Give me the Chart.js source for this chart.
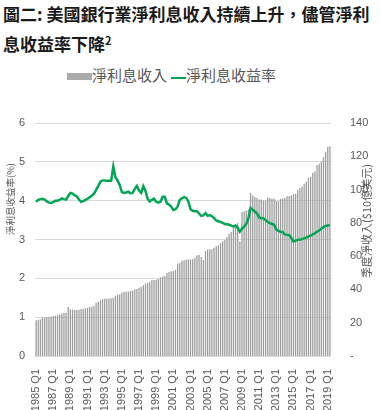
<!DOCTYPE html>
<html>
<head>
<meta charset="utf-8">
<script src="https://cdn.jsdelivr.net/npm/chart.js@4/dist/chart.umd.min.js"></script>
<style>
  html, body { margin: 0; padding: 0; background: #fff; }
  #wrap { position: relative; width: 380px; height: 410px; overflow: hidden; }
  #title { position: absolute; left: 3px; top: -1px; font: bold 17px "Noto Sans CJK TC", "Noto Sans CJK SC", sans-serif; line-height: 29.5px; color: #1a1a1a; white-space: nowrap; }
  #title sup { font-size: 11px; vertical-align: 6px; line-height: 0; }
  #legend { position: absolute; left: 67px; top: 66px; font: 15px "Noto Sans CJK TC", "Noto Sans CJK SC", sans-serif; color: #595959; white-space: nowrap; line-height: 18px; }
  #legend .box { display: inline-block; width: 25px; height: 7px; background: #ababab; vertical-align: 1px; }
  #legend .ln { display: inline-block; width: 15px; height: 2.5px; background: #00a651; vertical-align: 2px; margin-left: 4px; }
  canvas { position: absolute; left: 0; top: 0; }
</style>
</head>
<body>
<div id="wrap">
  <div id="title">圖二: 美國銀行業淨利息收入持續上升，儘管淨利<br>息收益率下降<sup>2</sup></div>
  <div id="legend"><span class="box"></span>淨利息收入<span class="ln"></span>淨利息收益率</div>
  <canvas id="c" width="380" height="410"></canvas>
</div>
<script>
// Quarter labels
const years = [1985,1986,1987,1988,1989,1990,1991,1992,1993,1994,1995,1996,1997,1998,1999,2000,2001,2002,2003,2004,2005,2006,2007,2008,2009,2010,2011,2012,2013,2014,2015,2016,2017,2018,2019];
const quarterNames = ['Q1','Q2','Q3','Q4'];
const quarterCount = 138; // 1985 Q1 .. 2019 Q2

// Quarterly net interest income ($10億美元), right axis
const netInterestIncome = [
  21.5, 21.8, 22.0, 23.0,
  23.2, 23.3, 23.5, 23.8,
  24.0, 24.2, 24.5, 25.0,
  25.5, 26.0, 26.0, 29.5,
  28.0, 27.8, 27.6, 27.6,
  27.8, 28.2, 28.4, 28.6,
  29.0, 29.4, 29.6, 30.0,
  32.0, 32.5, 33.5, 34.2,
  34.4, 34.4, 34.5, 34.6,
  35.0, 36.0, 36.7, 37.0,
  38.0, 38.5, 38.6, 38.8,
  39.0, 39.3, 40.0, 40.3,
  41.0, 41.6, 42.5, 43.5,
  44.0, 44.5, 45.5, 45.7,
  45.8, 46.3, 47.2, 47.7,
  48.0, 49.8, 50.5, 50.8,
  51.0, 51.7, 55.5, 56.0,
  57.2, 57.5, 58.0, 58.0,
  58.0, 58.2, 59.0, 60.5,
  60.7, 59.5, 57.7, 63.0,
  64.0, 64.0, 64.2, 65.0,
  66.0, 66.5, 68.0, 69.0,
  69.7, 71.5, 73.5, 74.5,
  77.0, 78.0, 79.7, 68.7,
  86.5, 87.0, 87.5, 88.0,
  98.0, 96.5, 95.5, 95.0,
  94.0, 94.0, 93.5, 93.3,
  95.3, 95.0, 94.5, 94.5,
  93.3, 93.0, 94.5, 94.7,
  95.0, 96.0, 96.0, 96.5,
  97.3, 97.5, 99.7, 101.0,
  101.7, 103.5, 104.7, 107.0,
  107.7, 110.0, 111.0, 114.7,
  115.5, 116.7, 119.5, 122.7,
  125.7, 126.0
];

// Net interest margin (%), left axis
const netInterestMargin = [
  3.97, 4.02, 4.04, 4.05,
  4.03, 3.98, 3.95, 3.94,
  3.96, 4.00, 4.00, 4.02,
  4.06, 4.04, 4.03, 4.12,
  4.20, 4.18, 4.14, 4.11,
  4.03, 3.97, 3.99, 4.02,
  4.05, 4.09, 4.13, 4.18,
  4.28, 4.38, 4.49, 4.52,
  4.52, 4.51, 4.51, 4.51,
  4.88, 4.60, 4.52, 4.40,
  4.22, 4.20, 4.21, 4.23,
  4.19, 4.20, 4.30, 4.38,
  4.26, 4.20, 4.37, 4.25,
  4.05, 3.98, 4.02, 4.05,
  3.97, 3.95, 3.97, 4.10,
  4.10, 3.93, 3.90, 3.85,
  3.76, 3.78, 3.85, 4.02,
  4.06, 4.09, 4.07, 3.98,
  3.78, 3.74, 3.73, 3.73,
  3.67, 3.61, 3.62, 3.68,
  3.61, 3.63, 3.60, 3.55,
  3.49, 3.47, 3.45, 3.43,
  3.40, 3.39, 3.38, 3.36,
  3.33, 3.36, 3.30, 3.20,
  3.28, 3.33, 3.40, 3.55,
  3.81, 3.77, 3.72, 3.67,
  3.57, 3.55, 3.55, 3.50,
  3.45, 3.42, 3.40, 3.38,
  3.26, 3.22, 3.20, 3.19,
  3.13, 3.12, 3.11, 3.04,
  2.95, 2.97, 2.99, 3.00,
  3.01, 3.03, 3.05, 3.08,
  3.10, 3.13, 3.16, 3.20,
  3.23, 3.28, 3.32, 3.35,
  3.36, 3.37
];

const leftTicks = [0, 1, 2, 3, 4, 5, 6];
const rightTicks = [0, 20, 40, 60, 80, 100, 120, 140];
const leftTitle = '淨利息收益率(%)';
const rightTitle = '季度淨收入($10億美元)';

const categories = [];
for (let i = 0; i < quarterCount; i++) {
  categories.push(years[Math.floor(i / 4)] + ' ' + quarterNames[i % 4]);
}

const tickFont = { family: '"Liberation Sans", Arial, sans-serif', size: 11 };
const tickColor = '#595959';

const axisTitles = {
  id: 'axisTitles',
  afterDraw(chart) {
    const ctx = chart.ctx;
    ctx.save();
    ctx.fillStyle = tickColor;
    ctx.textAlign = 'center';
    ctx.textBaseline = 'middle';
    ctx.font = '9.5px "Noto Sans CJK TC", "Liberation Sans", sans-serif';
    ctx.translate(10, 199);
    ctx.rotate(-Math.PI / 2);
    ctx.fillText(leftTitle, 0, 0);
    ctx.restore();
    ctx.save();
    ctx.fillStyle = tickColor;
    ctx.textAlign = 'center';
    ctx.textBaseline = 'middle';
    ctx.font = '11px "Noto Sans CJK TC", "Liberation Sans", sans-serif';
    ctx.translate(367, 221);
    ctx.rotate(-Math.PI / 2);
    ctx.fillText(rightTitle, 0, 0);
    ctx.restore();
  }
};

new Chart(document.getElementById('c'), {
  data: {
    labels: categories,
    datasets: [
      {
        type: 'line',
        label: '淨利息收益率',
        data: netInterestMargin,
        yAxisID: 'y',
        borderColor: '#00a651',
        backgroundColor: '#00a651',
        borderWidth: 2.5,
        pointRadius: 0,
        tension: 0,
        order: 0
      },
      {
        type: 'bar',
        label: '淨利息收入',
        data: netInterestIncome,
        yAxisID: 'y2',
        backgroundColor: '#9c9c9c',
        barPercentage: 0.6,
        categoryPercentage: 1.0,
        order: 1
      }
    ]
  },
  options: {
    responsive: false,
    animation: false,
    events: [],
    layout: { padding: { top: 123, left: 0, right: 0, bottom: 0 } },
    plugins: { legend: { display: false }, title: { display: false }, tooltip: { enabled: false } },
    scales: {
      x: {
        grid: { display: false },
        border: { display: false },
        ticks: {
          autoSkip: false,
          maxRotation: 90,
          minRotation: 90,
          padding: 5,
          color: tickColor,
          font: tickFont,
          callback: function (v, i) { return i % 8 === 0 ? categories[i] : ''; }
        },
        afterFit(scale) { scale.height = 54; }
      },
      y: {
        position: 'left',
        min: 0, max: 6,
        afterBuildTicks(scale) { scale.ticks = leftTicks.map(v => ({ value: v })); },
        grid: { color: '#d9d9d9', drawTicks: false },
        border: { display: false },
        ticks: { padding: 10, color: tickColor, font: tickFont },
        afterFit(scale) { scale.width = 35; }
      },
      y2: {
        position: 'right',
        min: 0, max: 140,
        afterBuildTicks(scale) { scale.ticks = rightTicks.map(v => ({ value: v })); },
        grid: { display: false },
        border: { display: false },
        ticks: { padding: 11, color: tickColor, font: tickFont, callback: v => v === 0 ? '-' : v },
        afterFit(scale) { scale.width = 49; }
      }
    }
  },
  plugins: [axisTitles]
});
</script>
</body>
</html>
